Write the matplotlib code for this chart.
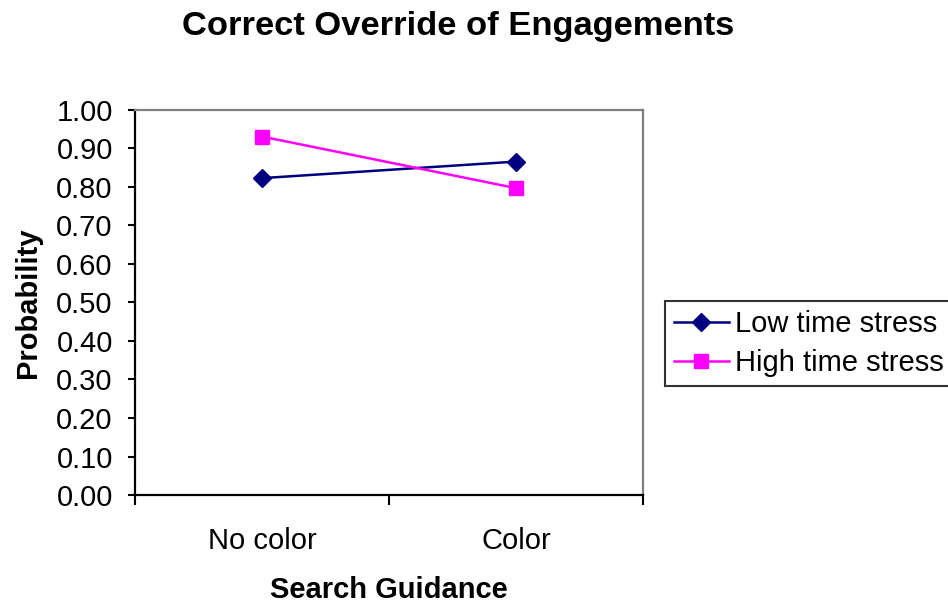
import matplotlib.pyplot as plt
import numpy as np

plt.rcParams['font.family'] = ['Liberation Sans', 'DejaVu Sans']

# data
categories = ['No color', 'Color']
low_stress = [0.823, 0.866]
high_stress = [0.931, 0.797]

fig = plt.figure(figsize=(9.48, 6.03), dpi=100)
ax = fig.add_axes([0.1424, 0.1791, 0.5359, 0.6385])

x = np.arange(len(categories)) + 0.5
ax.plot(x, low_stress, color='#000080', lw=1.8, marker='D', ms=9,
        label='Low time stress')
ax.plot(x, high_stress, color='#FF00FF', lw=1.8, marker='s', ms=10,
        label='High time stress')

ax.set_xlim(0, len(categories))
ax.set_ylim(0, 1.0)
ax.set_yticks(np.arange(0, 1.01, 0.1))
ax.set_yticklabels([f'{v:.2f}' for v in np.arange(0, 1.01, 0.1)], fontsize=21)

# category boundaries get the tick marks, names sit in between
ax.set_xticks(np.arange(len(categories) + 1))
ax.set_xticklabels([])
ax.set_xticks(x, minor=True)
ax.set_xticklabels(categories, minor=True, fontsize=21)
ax.tick_params(axis='x', which='minor', length=0, pad=23)
ax.tick_params(axis='x', which='major', length=7, width=1.5, direction='out')
ax.tick_params(axis='y', length=5, width=1.5, direction='out', pad=11)

for side in ['left', 'bottom']:
    ax.spines[side].set_color('black')
    ax.spines[side].set_linewidth(1.6)
for side in ['top', 'right']:
    ax.spines[side].set_color('#808080')
    ax.spines[side].set_linewidth(1.6)

ax.set_xlabel('Search Guidance', fontsize=21, fontweight='bold', labelpad=15)
ax.set_ylabel('Probability', fontsize=21, fontweight='bold', labelpad=10)
fig.suptitle('Correct Override of Engagements', fontsize=24.8, fontweight='bold',
             x=0.483, y=0.982)

leg = fig.legend(loc='upper left', bbox_to_anchor=(0.7015, 0.5008),
                 fontsize=21, frameon=True, fancybox=False, edgecolor='black',
                 handlelength=1.9, handletextpad=0.2, borderpad=0.3,
                 labelspacing=0.38, borderaxespad=0)
leg.get_frame().set_linewidth(1.5)

fig.savefig('out.png', dpi=100)
